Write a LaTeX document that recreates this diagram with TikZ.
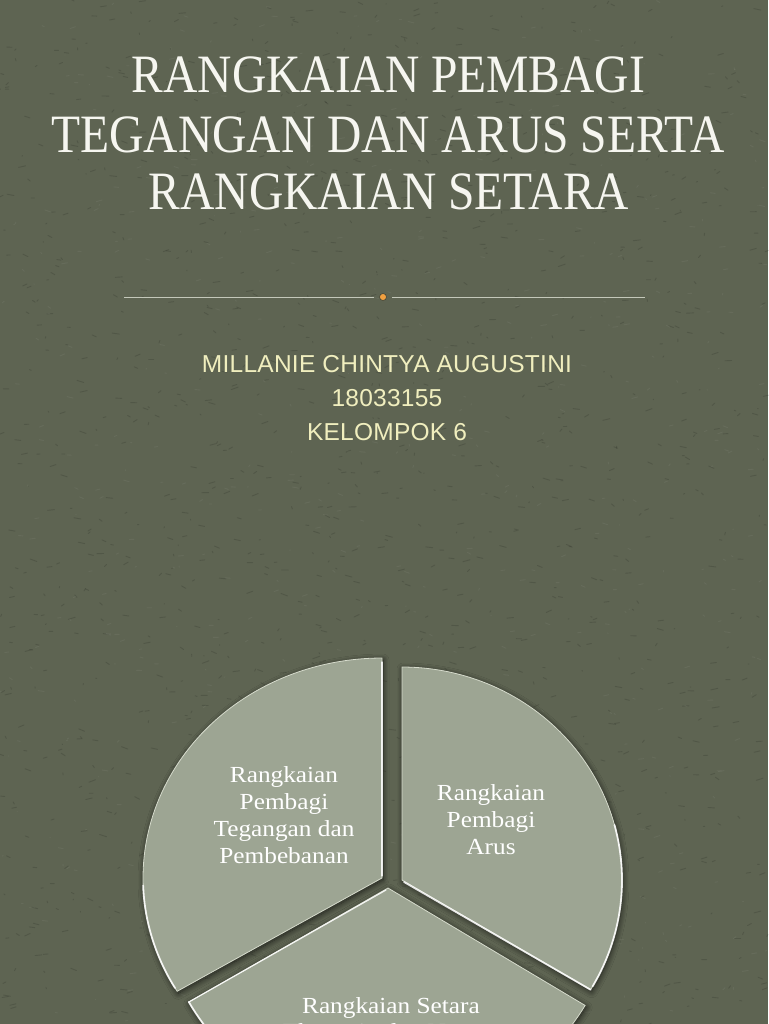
\documentclass[tikz,border=0pt]{standalone}
\usepackage{fontspec}
\setmainfont{Liberation Serif}
\newfontfamily\titlefont[FakeStretch=0.88]{Liberation Serif}
\newfontfamily\wedgefont[FakeStretch=1.1]{Liberation Serif}
\newfontfamily\subfont[LetterSpace=1]{Liberation Sans}
\usetikzlibrary{shadows.blur}
\definecolor{bg}{RGB}{94,100,82}
\definecolor{wedgefill}{RGB}{157,165,147}
\definecolor{rim}{RGB}{214,219,204}
\definecolor{titlecol}{RGB}{246,246,240}
\definecolor{subcol}{RGB}{240,238,190}
\definecolor{rulecol}{RGB}{196,200,186}
\definecolor{dotcol}{RGB}{240,160,64}
\tikzset{
  titleline/.style={anchor=base, text=titlecol, inner sep=0pt,
    font=\titlefont\fontsize{54}{58}\selectfont},
  subline/.style={anchor=base, text=subcol, inner sep=0pt,
    font=\subfont\fontsize{24.5}{34}\selectfont},
  wedge/.style={fill=wedgefill, draw=rim, line width=0.8pt,
    blur shadow={shadow xshift=1pt, shadow yshift=-2pt,
      shadow blur radius=6pt, shadow blur steps=10, shadow opacity=70}},
  hilite/.style={draw=white, line width=1.8pt, opacity=0.85, line cap=round},
  wedgetext/.style={text=white, align=center, inner sep=0pt,
    font=\wedgefont\fontsize{23}{27}\selectfont},
  rulestyle/.style={draw=rulecol, line width=1pt},
  speck/.style={draw=black, opacity=0.13, line width=0.9pt, line cap=round},
  speckl/.style={draw=white, opacity=0.05, line width=0.9pt, line cap=round}
}
\begin{document}
\begin{tikzpicture}[x=1pt,y=-1pt]
\useasboundingbox (0,0) rectangle (768,1024);
\fill[bg] (0,0) rectangle (768,1024);

% background texture
\pgfmathsetseed{7}
\foreach \i in {1,...,1400} {
  \pgfmathsetmacro\px{rnd*768}
  \pgfmathsetmacro\py{rnd*1024}
  \pgfmathsetmacro\dx{rand*7}
  \pgfmathsetmacro\dy{rand*2.5}
  \draw[speck] (\px,\py) -- ++(\dx,\dy);
}
\foreach \i in {1,...,600} {
  \pgfmathsetmacro\px{rnd*768}
  \pgfmathsetmacro\py{rnd*1024}
  \pgfmathsetmacro\dx{rand*6}
  \pgfmathsetmacro\dy{rand*2}
  \draw[speckl] (\px,\py) -- ++(\dx,\dy);
}

% title
\node[titleline] (t1) at (388.5,93) {RANGKAIAN PEMBAGI};
\node[titleline] (t2) at (388,153) {TEGANGAN DAN ARUS SERTA};
\node[titleline] (t3) at (389,210) {RANGKAIAN SETARA};

% divider
\coordinate (dl1) at (124,297);
\coordinate (dl2) at (374,297);
\coordinate (dr1) at (392,297);
\coordinate (dr2) at (645,297);
\draw[rulestyle] (dl1) -- (dl2);
\draw[rulestyle] (dr1) -- (dr2);
\node[circle, fill=dotcol, draw=bg!70!black, line width=0.6pt, inner sep=0pt, minimum size=7pt] (dot) at (383,297) {};

% subtitle
\node[subline] (s1) at (387,372) {MILLANIE CHINTYA AUGUSTINI};
\node[subline] (s2) at (387,406) {18033155};
\node[subline] (s3) at (387,440) {KELOMPOK 6};

% wedges
\path[wedge] (382,878) -- plot[domain=270:149,samples=80] ({382+239*cos(\x)},{878+220*sin(\x)}) -- cycle;
\path[wedge] (402,880) -- plot[domain=270:391,samples=80] ({402+220*cos(\x)},{880+213*sin(\x)}) -- cycle;
\path[wedge] (388,888) -- plot[domain=150:31,samples=80] ({388+230*cos(\x)},{888+228*sin(\x)}) -- cycle;

% highlights
\draw[hilite] plot[domain=178:150,samples=30] ({382+239*cos(\x)},{878+220*sin(\x)});
\draw[hilite, line width=1.2pt] (382,662) -- (382,876);
\draw[hilite] plot[domain=345:390,samples=30] ({402+220*cos(\x)},{880+213*sin(\x)});
\draw[hilite] (404,882) -- ({402+220*cos(31)},{880+213*sin(31)});
\draw[hilite, line width=1.2pt] (386,890) -- ({388+230*cos(150)},{888+228*sin(150)});
\draw[hilite] plot[domain=150:140,samples=10] ({388+230*cos(\x)},{888+228*sin(\x)});

% wedge labels
\node[wedgetext] (w1) at (284,815) {Rangkaian\\Pembagi\\Tegangan dan\\Pembebanan};
\node[wedgetext] (w2) at (491,820) {Rangkaian\\Pembagi\\Arus};
\node[wedgetext, anchor=north] (w3) at (391,997) {Rangkaian Setara\\[-1pt]Thevenin dan Norton};
\end{tikzpicture}
\end{document}
